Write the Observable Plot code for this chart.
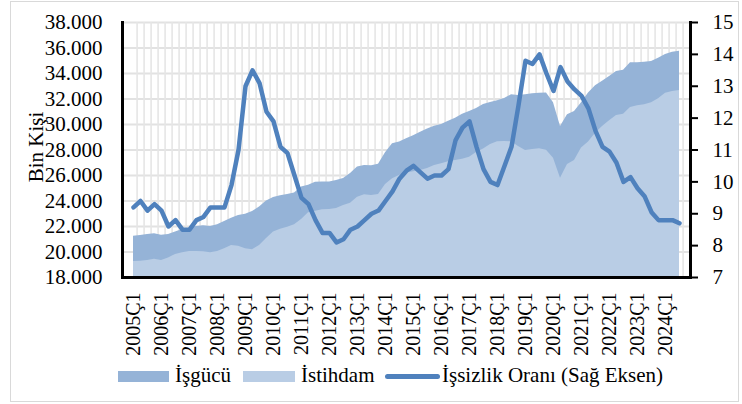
<!DOCTYPE html>
<html>
<head>
<meta charset="utf-8">
<script src="https://cdn.jsdelivr.net/npm/d3@7"></script>
<script src="https://cdn.jsdelivr.net/npm/@observablehq/plot@0.6"></script>
<style>
  body { margin: 0; background: #fff; }
  #wrap { position: relative; width: 742px; height: 404px; font-family: "Liberation Serif", "Times New Roman", serif; color: #000; overflow: hidden; }
  #border { position: absolute; left: 10px; top: 1px; width: 729px; height: 401px; border: 1.5px solid #d9d9d9; box-sizing: border-box; }
  #chart { position: absolute; left: 0; top: 0; }
  .lg { position: absolute; font-size: 21px; line-height: 21px; white-space: nowrap; }
  .sw { position: absolute; }
  #ylab { position: absolute; left: 36px; top: 147px; font-size: 21px; line-height: 21px; white-space: nowrap; transform: translate(-50%, -50%) rotate(-90deg); }
</style>
</head>
<body>
<div id="wrap">
  <div id="border"></div>
  <div id="chart"></div>
  <div id="ylab">Bin Kişi</div>
  <div class="sw" style="left:118px;top:371px;width:51px;height:11px;background:#95b3d7"></div>
  <div class="lg" style="left:175px;top:365px">İşgücü</div>
  <div class="sw" style="left:243px;top:371px;width:52px;height:11px;background:#b9cde5"></div>
  <div class="lg" style="left:301px;top:365px">İstihdam</div>
  <div class="sw" style="left:385px;top:374px;width:55px;height:5px;border-radius:3px;background:#4f81bd"></div>
  <div class="lg" style="left:442px;top:365px">İşsizlik Oranı (Sağ Eksen)</div>
</div>
<script>
// Categories: quarters 2005Ç1 .. 2024Ç3
const years = [2005,2006,2007,2008,2009,2010,2011,2012,2013,2014,2015,2016,2017,2018,2019,2020,2021,2022,2023,2024];
const quarterNames = ["Ç1","Ç2","Ç3","Ç4"];
const quarters = years.flatMap(y => quarterNames.map(q => y + q)).slice(0, 79);

// İşgücü (bin kişi)
const isgucu = [
  21240,21300,21380,21430,21320,21370,21560,21770,21870,22000,
  22050,22000,22130,22390,22650,22860,22970,23180,23520,24000,
  24280,24410,24510,24620,25090,25240,25480,25500,25500,25610,
  25770,26160,26660,26790,26760,26890,27780,28490,28620,28880,
  29110,29400,29640,29870,30000,30260,30500,30810,31020,31260,
  31570,31730,31860,32040,32330,32280,32330,32410,32460,32480,
  31700,29840,30760,31020,31700,32480,33030,33400,33770,34160,
  34260,34840,34840,34890,34940,35200,35490,35670,35750
];
// İstihdam (bin kişi)
const istihdam = [
  19260,19280,19340,19440,19340,19520,19810,19940,20040,20040,
  20020,19940,20040,20250,20510,20460,20250,20170,20510,21050,
  21560,21790,21950,22130,22550,23070,23200,23310,23340,23410,
  23650,23830,24300,24490,24430,24510,25300,25740,26000,26200,
  26290,26390,26550,26790,26920,27070,27180,27280,27440,27810,
  28070,28430,28640,28670,28640,28280,27960,28040,28090,27990,
  27360,25790,26860,27180,28150,28620,29320,29840,30290,30710,
  30810,31330,31470,31540,31700,32010,32460,32590,32670
];
// İşsizlik oranı (%) – sağ eksen
const issizlik = [
  9.2,9.4,9.1,9.3,9.1,8.6,8.8,8.5,8.5,8.8,
  8.9,9.2,9.2,9.2,9.9,11.0,13.0,13.5,13.1,12.2,
  11.9,11.1,10.9,10.2,9.5,9.3,8.8,8.4,8.4,8.1,
  8.2,8.5,8.6,8.8,9.0,9.1,9.4,9.7,10.1,10.35,
  10.5,10.3,10.1,10.2,10.2,10.4,11.3,11.7,11.9,11.1,
  10.4,10.0,9.9,10.5,11.1,12.4,13.8,13.7,14.0,13.4,
  12.85,13.6,13.15,12.9,12.7,12.3,11.6,11.1,10.95,10.6,
  10.0,10.15,9.8,9.55,9.05,8.8,8.8,8.8,8.7
];

const leftTicks = [18000,20000,22000,24000,26000,28000,30000,32000,34000,36000,38000];
const rightTicks = [7,8,9,10,11,12,13,14,15];
const xTickLabels = quarters.filter(q => q.endsWith("Ç1"));

const data = quarters.map((q, i) => ({q, lf: isgucu[i], emp: istihdam[i], rate: issizlik[i]}));

// right axis (7–15) mapped onto left axis domain (18.000–38.000)
const toLeft = r => 18000 + (r - 7) * 2500;
const fromLeft = v => (v - 18000) / 2500 + 7;
const fmtLeft = v => d3.format(",")(v).replace(/,/g, ".");

const W = 742, ML = 122, MR = 52;
const step = (W - ML - MR) / quarters.length;

const chart = Plot.plot({
  width: W,
  height: 360,
  marginLeft: ML,
  marginRight: MR,
  marginTop: 22,
  marginBottom: 83,
  style: {fontFamily: "'Liberation Serif', 'Times New Roman', serif", fontSize: "21px", color: "#000", background: "transparent"},
  x: {type: "point", domain: quarters, padding: 0.5},
  y: {domain: [18000, 38000]},
  marks: [
    Plot.ruleY(leftTicks, {stroke: "#e2e2e2", strokeWidth: 2}),
    Plot.ruleX(quarters, {stroke: "#e6e6e6", strokeWidth: 1.6, dx: step / 2}),
    Plot.areaY(data, {x: "q", y1: 18000, y2: "lf", fill: "#95b3d7"}),
    Plot.areaY(data, {x: "q", y1: 18000, y2: "emp", fill: "#b9cde5"}),
    Plot.lineY(data, {x: "q", y: d => toLeft(d.rate), stroke: "#4f81bd", strokeWidth: 4.5, strokeLinejoin: "round", strokeLinecap: "round"}),
    Plot.axisY(leftTicks, {anchor: "left", tickSize: 0, tickPadding: 20, tickFormat: fmtLeft, label: null}),
    Plot.axisY(rightTicks.map(toLeft), {anchor: "right", tickSize: 7, tickPadding: 15, strokeWidth: 2, tickFormat: v => String(Math.round(fromLeft(v))), label: null}),
    Plot.axisX(xTickLabels, {anchor: "bottom", tickSize: 0, tickPadding: 15, tickRotate: -90, fontSize: 20, label: null}),
    Plot.frame({anchor: "left", stroke: "#000", strokeWidth: 3}),
    Plot.frame({anchor: "bottom", stroke: "#000", strokeWidth: 3}),
    Plot.frame({anchor: "right", stroke: "#000", strokeWidth: 3})
  ]
});
document.getElementById("chart").appendChild(chart);
</script>
</body>
</html>
